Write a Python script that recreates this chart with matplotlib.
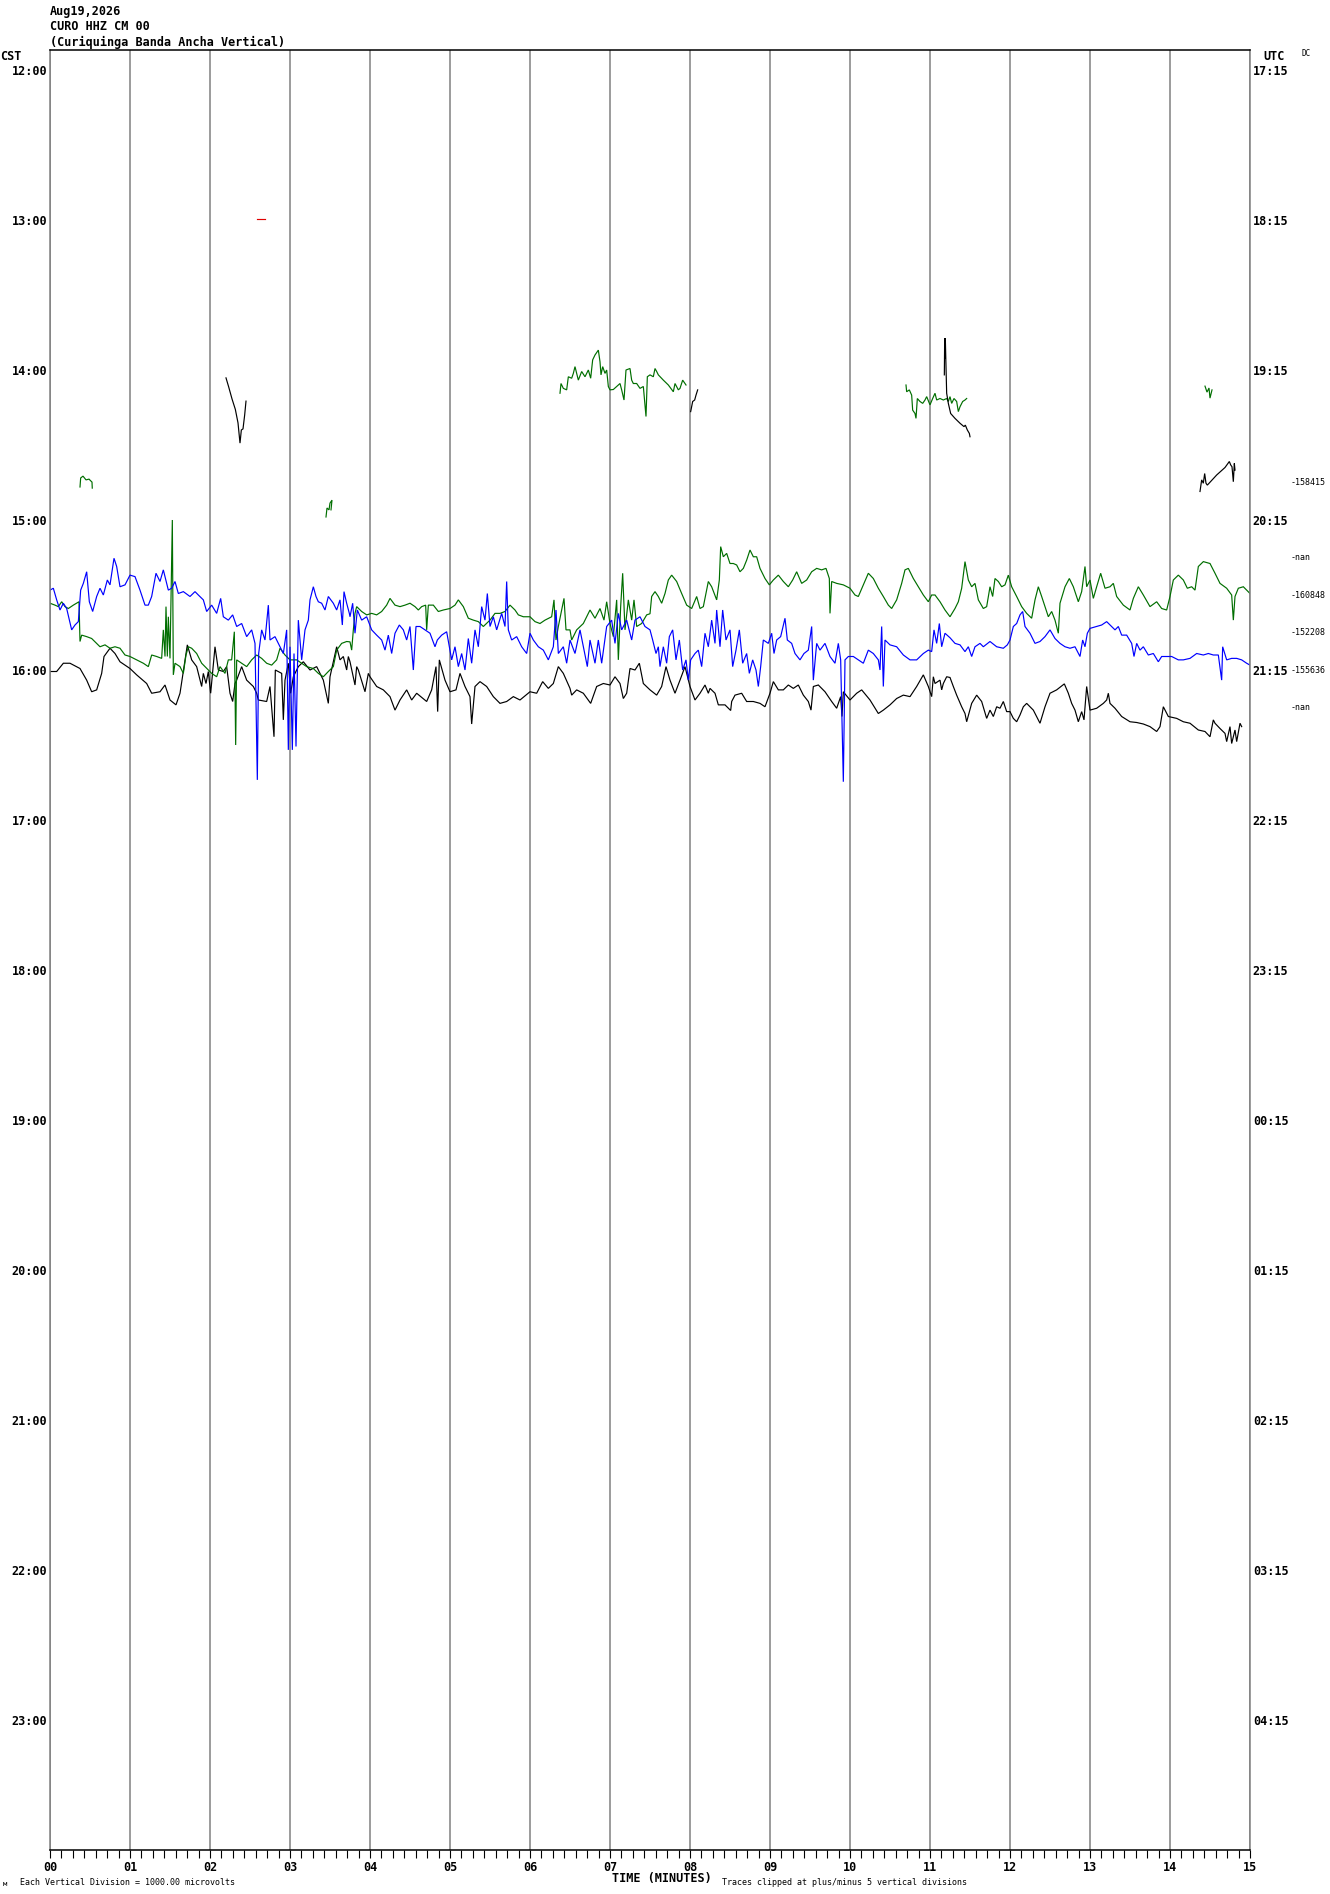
import numpy as np
import matplotlib
matplotlib.use('Agg')
import matplotlib.pyplot as plt
from matplotlib.transforms import blended_transform_factory

# header of the helicorder page
station_date = 'Aug19,2026'
station_code = 'CURO HHZ CM 00'
station_name = '(Curiquinga Banda Ancha Vertical)'

cst_hours = ['12:00', '13:00', '14:00', '15:00', '16:00', '17:00',
             '18:00', '19:00', '20:00', '21:00', '22:00', '23:00']
utc_hours = ['17:15', '18:15', '19:15', '20:15', '21:15', '22:15',
             '23:15', '00:15', '01:15', '02:15', '03:15', '04:15']
minute_labels = ['%02d' % m for m in range(16)]

# mean values printed at the right of some 15 min lines
mean_lines = [11, 13, 14, 15, 16, 17]
mean_labels = ['-158415', '-nan', '-160848', '-152208', '-155636', '-nan']

# traces: (seconds into the line, deflection in vertical divisions, up = +)
black_main = [  # line 16
    (0, -0.04), (5, -0.04), (10, 0.18), (15, 0.18), (22.5, 0.04), (27.5, -0.27), (31.25, -0.58), (35, -0.53),
    (38.75, -0.09), (40.5, 0.36), (45, 0.58), (48.75, 0.44), (52.5, 0.22), (60, 0.04), (65, -0.13), (72.5, -0.36),
    (76.25, -0.62), (82.5, -0.58), (86.25, -0.40), (90, -0.80), (94.5, -0.93), (97.5, -0.62), (100, -0.04),
    (103, 0.67), (106.25, 0.27), (110, 0.09), (113.75, -0.44), (115, -0.09), (117, -0.36), (118.75, -0.04),
    (120.5, -0.62), (123.75, 0.62), (126.25, 0.0), (130, -0.04), (132.5, 0.09), (135, -0.62), (137, -0.84),
    (138.75, -0.36), (140, -0.27), (143.75, 0.09), (147.5, -0.27), (152.5, -0.44), (155, -0.62), (156.25, -0.80),
    (162.5, -0.84), (165, -0.44), (168, -1.78), (169, 0.0), (173.75, -0.09), (175, -1.33), (176.25, -0.27),
    (178.75, 0.18), (180.5, -0.62), (182.5, -0.18), (186.25, 0.09), (190, 0.22), (195, 0.0), (200, 0.09),
    (205, -0.27), (208.75, -0.89), (210, -0.18), (215, 0.62), (217.5, 0.27), (220, 0.36), (222.5, 0.0),
    (223.75, 0.36), (225, 0.22), (228.75, -0.40), (230, 0.09), (231.25, 0.0), (236.25, -0.58), (238.75, -0.09),
    (240, -0.18), (245, -0.44), (250, -0.53), (255, -0.71), (258.75, -1.07), (262.5, -0.80), (267.5, -0.53),
    (271.25, -0.80), (275, -0.62), (282.5, -0.84), (286.25, -0.53), (289.5, 0.09), (290.75, -1.11), (292, 0.27),
    (296.25, -0.27), (300, -0.58), (304.5, -0.53), (307.5, -0.09), (311.25, -0.44), (315, -0.71), (316.25, -1.44),
    (318.75, -0.44), (322.5, -0.31), (327.5, -0.44), (332.5, -0.71), (337.5, -0.89), (342.5, -0.84),
    (347.5, -0.71), (352.5, -0.80), (360, -0.58), (365, -0.62), (369.5, -0.31), (373.75, -0.49), (377.5, -0.36),
    (381.25, 0.09), (385, -0.09), (390, -0.49), (391.25, -0.67), (395, -0.53), (400, -0.62), (405.5, -0.89),
    (410, -0.44), (415, -0.36), (420, -0.40), (423.75, -0.18), (427.5, -0.36), (430, -0.76), (432.5, -0.62),
    (435, 0.04), (438.75, 0.0), (442, 0.18), (445, -0.36), (450, -0.53), (455, -0.67), (458.75, -0.44),
    (462, 0.09), (465, -0.27), (468.75, -0.62), (472.5, -0.27), (476.25, 0.09), (480, -0.44), (483.75, -0.80),
    (487.5, -0.62), (491.25, -0.40), (493.75, -0.62), (495, -0.49), (498.75, -0.62), (501.25, -0.93),
    (506.25, -0.93), (510.5, -1.08), (511.25, -0.84), (513.75, -0.67), (518.75, -0.62), (522.5, -0.84),
    (527.5, -0.84), (532.5, -0.89), (536.25, -0.98), (540, -0.62), (542.5, -0.31), (546.25, -0.53), (550, -0.53),
    (553.75, -0.40), (557.5, -0.49), (561.25, -0.40), (565, -0.67), (568.75, -0.84), (570.75, -1.07),
    (572.5, -0.44), (576.25, -0.40), (581.25, -0.58), (586.25, -0.84), (590, -1.02), (593, -0.71), (594, -1.24),
    (595, -0.58), (600, -0.80), (605, -0.62), (608.75, -0.53), (615, -0.80), (621.25, -1.16), (625, -1.07),
    (630, -0.93), (635, -0.76), (640, -0.67), (645, -0.71), (650, -0.44), (655, -0.13), (658.75, -0.44),
    (661.25, -0.71), (662.5, -0.18), (663.75, -0.36), (667.5, -0.27), (668.75, -0.53), (670, -0.36),
    (672.5, -0.18), (675, -0.2), (677.5, -0.44), (680, -0.67), (683.75, -0.98), (686.25, -1.16), (687.5, -1.38),
    (691.25, -0.89), (695, -0.67), (698.75, -0.84), (702.5, -1.29), (705, -1.07), (707.5, -1.24), (710, -0.98),
    (712.5, -1.02), (715, -0.84), (717.5, -1.11), (720, -1.11), (722.5, -1.29), (725, -1.38), (727.5, -1.20),
    (730, -0.98), (732.5, -0.89), (737.5, -1.07), (742.5, -1.42), (746.25, -0.98), (750, -0.62), (755, -0.53),
    (760.75, -0.37), (763.75, -0.62), (766.25, -0.89), (768.75, -1.07), (771.25, -1.38), (773.75, -1.11),
    (775.5, -1.33), (777.5, -0.44), (780, -1.07), (785, -1.02), (790, -0.89), (792.5, -0.80), (793.75, -0.62),
    (795, -0.89), (798.75, -1.02), (803.75, -1.24), (810, -1.38), (815, -1.40), (820, -1.44), (825, -1.51),
    (830, -1.64), (832.5, -1.51), (835, -0.98), (838.75, -1.24), (845, -1.29), (850, -1.38), (855, -1.42),
    (861.25, -1.60), (866.25, -1.64), (870, -1.78), (872.5, -1.33), (873.75, -1.42), (877.5, -1.56),
    (881.25, -1.69), (882.5, -1.91), (885, -1.51), (886.25, -1.96), (888.75, -1.60), (890, -1.91),
    (892.5, -1.42), (893.75, -1.51),
]

blue_main = [  # line 15
    (0, 1.13), (2.5, 1.18), (5, 0.87), (7.5, 0.60), (10, 0.78), (12.5, 0.64), (14.5, 0.33), (16.25, 0.07),
    (18.75, 0.20), (21.25, 0.29), (23, 1.13), (25, 1.31), (27.5, 1.62), (29.5, 0.82), (32, 0.56), (35, 0.96),
    (37.5, 1.18), (40, 1.0), (43, 1.40), (45, 1.27), (48, 1.98), (50, 1.76), (52.5, 1.22), (56.25, 1.27),
    (60, 1.53), (63.75, 1.49), (67.5, 1.13), (71.25, 0.73), (73.75, 0.73), (76.25, 0.96), (79.5, 1.58),
    (82.5, 1.36), (85, 1.67), (88.75, 1.13), (91.25, 1.18), (93.75, 1.36), (96.25, 1.04), (100, 1.09),
    (105, 0.96), (108.75, 1.09), (111.25, 1.0), (115, 0.87), (117.5, 0.56), (121.25, 0.73), (125, 0.51),
    (128, 0.91), (130, 0.42), (133.75, 0.33), (137, 0.47), (140, 0.16), (143.75, 0.24), (147.5, -0.11),
    (151.25, 0.07), (153.75, -0.29), (155.5, -3.93), (156.5, -0.56), (158.75, 0.07), (161.25, -0.20),
    (163.75, 0.73), (165, -0.20), (168.75, -0.11), (172.5, -0.38), (175, -0.56), (177.5, 0.07), (178.75, -3.13),
    (180, -0.38), (181.75, -3.13), (183, -0.56), (184.5, -3.04), (186.25, 0.33), (188.75, -0.73), (191.25, 0.07),
    (193.75, 0.33), (195, 0.87), (197.5, 1.22), (199.5, 0.96), (201.25, 0.82), (203.75, 0.78), (206.25, 0.60),
    (208.75, 0.96), (212.5, 0.78), (215, 0.60), (217.5, 0.87), (219.25, 0.20), (220.5, 1.09), (222.5, 0.78),
    (224.5, 0.51), (225, 0.42), (227, 0.78), (228.75, -0.02), (230.5, 0.60), (233.75, 0.33), (237.5, 0.42),
    (241.25, 0.07), (245, -0.07), (248.75, -0.20), (251.25, -0.47), (253.75, -0.07), (256.25, -0.56),
    (258.75, -0.02), (262, 0.20), (265, 0.07), (267.5, -0.20), (270, 0.16), (272.5, -1.0), (274.5, 0.16),
    (277.5, 0.16), (281.25, 0.07), (285, -0.02), (288.75, -0.38), (290.5, -0.20), (293.75, -0.07), (297.5, 0.02),
    (301.25, -0.73), (303.75, -0.38), (306.25, -0.91), (308.75, -0.56), (311.25, -1.0), (313.75, -0.16),
    (316.25, -0.82), (318.75, 0.07), (321.25, -0.38), (323.75, 0.69), (326.25, 0.33), (328, 1.04), (330, 0.16),
    (332.5, 0.42), (335, 0.07), (338.75, 0.51), (341.25, 0.16), (342.5, 1.36), (343.75, 0.07), (346.25, -0.20),
    (350, -0.11), (353.75, -0.38), (357.5, -0.56), (360, -0.02), (362.5, -0.20), (366.25, -0.38), (370, -0.47),
    (373.75, -0.73), (377.5, -0.38), (379.5, 0.60), (381.25, -0.56), (385, -0.38), (387.5, -0.82), (390, -0.20),
    (393.75, -0.56), (397.5, 0.07), (400, -0.38), (403, -0.91), (405, -0.20), (408.75, -0.82), (411.25, -0.20),
    (413.75, -0.82), (417.5, 0.16), (421.25, 0.33), (423.75, -0.29), (426.25, 0.51), (428.75, 0.07),
    (432.5, 0.33), (436.25, -0.20), (438.75, 0.33), (442.5, 0.42), (446.25, 0.16), (450, 0.07), (452, -0.20),
    (454.5, -0.56), (456.25, -0.38), (457.5, -0.91), (460, -0.38), (462.5, -0.82), (464.5, -0.11), (467, 0.07),
    (469.5, -0.73), (472, -0.20), (474.5, -1.0), (477, -0.73), (478.75, -1.27), (480.5, -0.73), (483.75, -0.56),
    (486.25, -0.47), (488.75, -0.91), (491.25, -0.02), (493.75, -0.38), (496.25, 0.33), (498.75, -0.29),
    (500, 0.60), (502.5, -0.38), (504.5, 0.60), (507, -0.20), (510, 0.07), (512, -0.91), (514.5, -0.47),
    (517, 0.07), (519.5, -0.82), (522.5, -0.56), (524.5, -1.09), (527, -0.73), (529.5, -1.0), (531.25, -1.44),
    (533, -0.91), (535, -0.20), (538.75, -0.29), (541.25, -0.02), (543, -0.56), (545, -0.20), (548, -0.11),
    (551.25, 0.38), (553, -0.20), (556.25, -0.29), (558.75, -0.56), (562.5, -0.73), (565.5, -0.56),
    (568.75, -0.47), (571.25, 0.16), (572.5, -1.27), (575, -0.29), (577.5, -0.47), (581.25, -0.29),
    (585, -0.64), (588.75, -0.82), (591.25, -0.29), (593, -0.73), (595, -3.98), (596.25, -0.73),
    (598.75, -0.64), (602.5, -0.64), (606.25, -0.73), (610, -0.82), (613.75, -0.47), (617.5, -0.56),
    (621.25, -0.73), (622.5, -1.0), (623.75, 0.16), (625, -1.44), (626.25, -0.20), (630, -0.33), (635, -0.38),
    (640, -0.60), (645, -0.73), (650, -0.73), (655, -0.56), (658.75, -0.47), (661.25, -0.51), (663, 0.07),
    (665, -0.29), (667, 0.24), (668.75, -0.38), (671.25, -0.02), (675, -0.14), (678.75, -0.29), (682.5, -0.33),
    (686.25, -0.51), (688.75, -0.38), (691.25, -0.64), (693.75, -0.38), (697.5, -0.29), (700, -0.38),
    (705, -0.24), (710, -0.38), (715, -0.42), (718, -0.33), (720, -0.20), (722.5, 0.16), (725, 0.24),
    (727.5, 0.47), (729.5, 0.56), (731.25, 0.16), (735, -0.02), (738.75, -0.29), (742.5, -0.24),
    (746.25, -0.11), (750, 0.07), (753.75, -0.16), (757.5, -0.29), (761.25, -0.38), (765, -0.42),
    (768.75, -0.38), (772.5, -0.64), (774.5, -0.20), (776.25, -0.38), (778, -0.02), (780, 0.11), (785, 0.16),
    (788.75, 0.20), (792.5, 0.29), (796.25, 0.16), (798.75, 0.07), (801.25, 0.16), (803.75, -0.07),
    (807.5, -0.07), (811.25, -0.29), (813, -0.64), (815, -0.29), (817.5, -0.47), (820, -0.38), (823.75, -0.60),
    (827.5, -0.56), (831.25, -0.78), (833.75, -0.64), (837.5, -0.64), (841.25, -0.64), (846.25, -0.73),
    (850, -0.73), (855, -0.69), (860, -0.56), (865, -0.60), (868.75, -0.56), (872.5, -0.60), (876.25, -0.60),
    (878.75, -1.27), (879.5, -0.38), (882.5, -0.73), (886.25, -0.69), (890, -0.69), (893.75, -0.73),
    (897.5, -0.82), (900, -0.87),
]

green_main = [  # line 14
    (0, -0.22), (3.75, -0.27), (6.25, -0.31), (8.75, -0.18), (11.25, -0.31), (13.75, -0.36), (17.5, -0.27),
    (21.75, -0.18), (22.5, -1.24), (23.75, -1.07), (27.5, -1.11), (31.25, -1.16), (35, -1.29), (37.5, -1.38),
    (41.25, -1.33), (45, -1.42), (48.75, -1.38), (52.5, -1.42), (56.25, -1.60), (60, -1.64), (65, -1.73),
    (70, -1.82), (73.75, -1.91), (76.25, -1.60), (80, -1.64), (83.75, -1.69), (85, -0.93), (86.25, -1.64),
    (87, -0.31), (88, -1.64), (88.75, -0.58), (90, -1.69), (91.75, 2.0), (92.5, -2.13), (93.75, -1.82),
    (97.5, -1.91), (100, -2.09), (102, -1.60), (103.75, -1.38), (106.25, -1.42), (110, -1.56), (113.75, -1.82),
    (116.25, -1.91), (118.75, -2.0), (121.25, -2.09), (125, -2.18), (127.5, -1.91), (131.25, -2.09),
    (133.75, -1.73), (136.25, -1.73), (138.25, -0.98), (139.25, -4.0), (140, -1.73), (143.75, -1.82),
    (147.5, -1.91), (151.25, -1.73), (155, -1.60), (158.75, -1.69), (162.5, -1.82), (166.25, -1.87),
    (170, -1.73), (172.5, -1.42), (176.25, -1.60), (180, -1.73), (185, -1.73), (188.75, -1.82), (192.5, -1.91),
    (197.5, -1.96), (201.25, -2.09), (205, -2.18), (208.75, -2.04), (212.5, -1.91), (215, -1.47),
    (218.75, -1.29), (222.5, -1.24), (225, -1.25), (226.25, -1.47), (227.5, -0.93), (228.75, -0.49),
    (230, -0.31), (233.75, -0.44), (237.5, -0.53), (241.25, -0.49), (245, -0.53), (248.75, -0.44),
    (252.5, -0.27), (255, -0.09), (258.75, -0.27), (262.5, -0.31), (266.25, -0.27), (270, -0.22),
    (273.75, -0.31), (276.25, -0.40), (278.75, -0.31), (281.75, -0.27), (282.5, -0.93), (283.75, -0.27),
    (287.5, -0.27), (291.25, -0.44), (295, -0.40), (300, -0.36), (303.75, -0.27), (306.25, -0.13),
    (310, -0.31), (313.75, -0.62), (317.5, -0.67), (321.25, -0.71), (325, -0.84), (330, -0.67),
    (333.75, -0.49), (337.5, -0.49), (341.25, -0.44), (345, -0.27), (348.75, -0.40), (351.25, -0.53),
    (355, -0.58), (360, -0.58), (363.75, -0.71), (367.5, -0.76), (371.25, -0.67), (376.25, -0.58),
    (378, -0.13), (379.5, -1.20), (381.25, -0.84), (385.5, -0.09), (387, -0.93), (390, -0.93), (391.25, -1.20),
    (395, -0.93), (400, -0.76), (405, -0.40), (408.75, -0.62), (412.5, -0.36), (415.5, -0.67), (417.5, -0.18),
    (420, -0.76), (422.5, -1.11), (425, -0.13), (426.25, -1.73), (428, -0.31), (429.5, 0.58), (431.25, -0.93),
    (433.75, -0.13), (436.25, -0.67), (438, -0.13), (440, -0.84), (443.75, -0.76), (447.5, -0.53),
    (450, -0.50), (451.25, -0.04), (453.75, 0.09), (456.25, -0.04), (458.75, -0.22), (461.25, 0.04),
    (463.75, 0.40), (466.25, 0.53), (470, 0.36), (473.75, 0.04), (477.5, -0.27), (481.25, -0.36),
    (485, -0.04), (487.5, -0.36), (490, -0.31), (493.75, 0.36), (496.25, 0.22), (500, -0.13), (502, 0.40),
    (503, 1.29), (505, 1.02), (507.5, 1.11), (510, 0.84), (512.5, 0.84), (515, 0.80), (517.5, 0.62),
    (520, 0.71), (522.5, 0.93), (525, 1.20), (527.5, 1.02), (530, 1.02), (532.5, 0.71), (536.25, 0.44),
    (539.5, 0.27), (542.5, 0.40), (546.25, 0.53), (550, 0.36), (553.75, 0.22), (557, 0.40), (560, 0.62),
    (563.75, 0.31), (567.5, 0.40), (571.25, 0.62), (575, 0.71), (578.75, 0.67), (582, 0.71), (584.5, 0.44),
    (585, -0.49), (586.25, 0.36), (590, 0.31), (595, 0.27), (600, 0.18), (603.75, 0.0), (606.25, -0.04),
    (610, 0.27), (613.75, 0.58), (617.5, 0.44), (621.25, 0.18), (625, -0.04), (628.75, -0.27),
    (631.25, -0.36), (635, -0.13), (638.75, 0.31), (641.25, 0.67), (643.75, 0.71), (647.5, 0.44),
    (651.25, 0.22), (655, 0.0), (658.75, -0.18), (661.25, 0.0), (663.75, 0.0), (667.5, -0.18), (671.25, -0.40),
    (675, -0.58), (678.75, -0.36), (681.25, -0.18), (683.75, 0.18), (686.25, 0.89), (688.75, 0.40),
    (691.25, 0.22), (693.75, 0.31), (696.25, -0.13), (700, -0.36), (702.5, -0.31), (705, 0.22), (707, -0.04),
    (708.75, 0.44), (711.25, 0.36), (713.75, 0.22), (716.25, 0.27), (718.75, 0.53), (721.25, 0.22),
    (725, -0.04), (728.75, -0.31), (732.5, -0.49), (736.25, -0.62), (738.75, -0.13), (741.25, 0.22),
    (743.75, -0.04), (746.25, -0.31), (748.75, -0.58), (751.25, -0.44), (753.75, -0.67), (756.25, -1.02),
    (757.5, -0.22), (761.25, 0.22), (764.5, 0.44), (767.5, 0.22), (771.25, -0.18), (773.75, 0.09),
    (776.25, 0.76), (777.5, 0.22), (780, 0.40), (782.5, -0.09), (785, 0.22), (788, 0.58), (791.25, 0.18),
    (795, 0.22), (797.5, 0.31), (800, -0.04), (805, -0.27), (810, -0.40), (812.5, -0.09), (816.25, 0.22),
    (820, 0.0), (825, -0.31), (830, -0.18), (833.75, -0.36), (837.5, -0.40), (840, -0.04), (842.5, 0.40),
    (846.25, 0.53), (850, 0.40), (853, 0.18), (856.25, 0.22), (858.75, 0.13), (861.25, 0.76), (865, 0.89),
    (870, 0.84), (873.75, 0.58), (877.5, 0.31), (882.5, 0.18), (886.25, 0.0), (887.5, -0.67), (888.75, -0.04),
    (891.25, 0.18), (895, 0.22), (900, 0.04),
]

# short pieces of trace higher up the page
red_13 = [(155.25, 0.02), (161.25, 0.02)]  # line 4
black_1415 = [(132, 0.79), (134, 0.55), (136.5, 0.23), (139, -0.05), (141, -0.41), (142.5, -0.95),
              (143.5, -0.6), (144.75, -0.57), (146, -0.2), (147, 0.17)]  # line 9
green_1400 = [(382.5, -0.62), (383.25, -0.36), (385, -0.49), (387.5, -0.53), (388.75, -0.18), (391.25, -0.22),
              (392.5, -0.09), (393.75, 0.09), (396.25, -0.27), (398.75, -0.04), (401.25, -0.18), (403.75, 0.0),
              (405.5, -0.22), (407, 0.27), (408.75, 0.40), (411.25, 0.53), (412.5, 0.22), (413.25, -0.13),
              (414.5, 0.09), (416.25, -0.09), (417.5, 0.0), (418.75, -0.44), (420, -0.53), (422.5, -0.52),
              (425, -0.44), (427.5, -0.36), (428.75, -0.53), (430.5, -0.80), (432, 0.0), (435, 0.04),
              (436.25, -0.27), (437.5, -0.36), (440, -0.36), (442.5, -0.49), (445, -0.44), (447, -1.24),
              (448, -0.18), (450, -0.13), (452.5, -0.18), (453.75, 0.04), (455, -0.04), (456.25, -0.13),
              (460, -0.27), (463.75, -0.40), (467.5, -0.58), (468.75, -0.36), (471.25, -0.53), (472.5, -0.49),
              (474.5, -0.27), (477, -0.40)]  # line 8
black_1400 = [(480.5, -1.11), (482, -0.84), (483.5, -0.80), (484.5, -0.67), (485.75, -0.53)]  # line 8
green_1411 = [(642, -0.40), (642.5, -0.58), (644.5, -0.53), (646.25, -0.67), (647, -1.07), (648.75, -1.16),
              (649.5, -1.29), (650.5, -0.76), (652.5, -0.84), (654.5, -0.89), (656.25, -0.80), (657.5, -0.71),
              (660, -0.93), (662, -0.76), (663.75, -0.62), (665, -0.80), (667.5, -0.76), (670, -0.80),
              (672.5, -0.76), (673.75, -0.84), (675, -0.71), (676.25, -0.89), (678, -0.76), (680, -0.84),
              (681.25, -1.11), (682.5, -0.98), (684.5, -0.84), (686.25, -0.80), (687.5, -0.76)]  # line 8
black_1411 = [(670.75, -0.13), (671.0, 0.84), (671.25, 0.3), (671.5, 0.84), (672, 0.09), (672.5, -0.62),
              (673.75, -0.89), (675.5, -1.16), (678.75, -1.29), (682.5, -1.42), (685.5, -1.51), (686.5, -1.47),
              (688, -1.60), (689.5, -1.69), (690, -1.78)]  # line 8
green_1414 = [(866.25, -0.43), (867.75, -0.59), (869.25, -0.48), (870, -0.75), (871.5, -0.53)]  # line 8
green_1445 = [(22.5, -0.12), (23, 0.12), (24.75, 0.17), (27, 0.07), (29.25, 0.09), (31.5, 0.01),
              (31.7, -0.15)]  # line 11
black_1445 = [(862.5, -0.24), (863.75, 0.07), (865, -0.02), (866, 0.24), (867, -0.02), (868, -0.07),
              (875, 0.2), (881.25, 0.4), (884.5, 0.56), (885.5, 0.47), (886.5, 0.42), (887.5, 0.02),
              (888.25, 0.51), (888.75, 0.33)]  # line 11
green_1503 = [(207, 0.08), (207.75, 0.32), (209.25, 0.27), (210, 0.45), (211.5, 0.53), (210.75, 0.27)]  # line 12

W, H = 1330, 1894
fig = plt.figure(figsize=(W / 100, H / 100), dpi=100)
fig.patch.set_facecolor('white')

# plot box 50..1250 x 50..1850 px, first baseline 20 px below the top, 37.5 px per line
ax = fig.add_axes([50 / W, 44 / H, 1200 / W, 1800 / H])
ax.set_xlim(0, 15)
ax.set_ylim(1780 / 37.5, -20 / 37.5)

mono = 'DejaVu Sans Mono'
GRID = '#808080'
GREEN = '#006e00'


def draw(pairs, line, color):
    t, a = np.array(pairs, dtype=float).T
    ax.plot(t / 60.0, line - a, color=color, lw=0.85, solid_joinstyle='miter')


draw(black_main, 16, 'black')
draw(green_main, 14, GREEN)
draw(blue_main, 15, '#0000ff')
draw(red_13, 4, '#e00000')
draw(black_1415, 9, 'black')
draw(green_1400, 8, GREEN)
draw(black_1400, 8, 'black')
draw(green_1411, 8, GREEN)
draw(black_1411, 8, 'black')
draw(green_1414, 8, GREEN)
draw(green_1445, 11, GREEN)
draw(black_1445, 11, 'black')
draw(green_1503, 12, GREEN)

# minute grid and bottom scale
ax.set_xticks(range(16))
ax.set_xticklabels(minute_labels, fontfamily=mono, fontweight='bold', fontsize=8.5)
ax.set_xticks(np.arange(0, 15, 1 / 7.0), minor=True)
ax.tick_params(axis='x', which='both', direction='out', length=6, width=0.8, color='black', pad=2)
ax.grid(axis='x', which='major', color=GRID, lw=1.1)
ax.set_axisbelow(True)

hour_ticks = np.arange(0, 48, 4)
ax.set_yticks(hour_ticks)
ax.set_yticklabels(cst_hours, fontfamily=mono, fontweight='bold', fontsize=8.5)
ax.tick_params(axis='y', length=0, pad=2)

sec = ax.secondary_yaxis('right')
sec.set_yticks(hour_ticks)
sec.set_yticklabels(utc_hours, fontfamily=mono, fontweight='bold', fontsize=8.5)
sec.tick_params(axis='y', length=0, pad=2)
sec.spines['right'].set_visible(False)

ax.spines['top'].set_color('black')
ax.spines['bottom'].set_color('black')
ax.spines['left'].set_color(GRID)
ax.spines['right'].set_color(GRID)
for s in ax.spines.values():
    s.set_linewidth(1.1)

trans = blended_transform_factory(ax.transAxes, ax.transData)
for line, lab in zip(mean_lines, mean_labels):
    ax.text(1.0337, line, lab, transform=trans, fontfamily=mono, fontsize=6,
            ha='left', va='center', clip_on=False)


def ftext(x, y, s, **kw):
    fig.text(x / W, 1 - y / H, s, fontfamily=mono, **kw)


ftext(50, 12, station_date, fontsize=8.5, fontweight='bold', va='center')
ftext(50, 27, station_code, fontsize=8.5, fontweight='bold', va='center')
ftext(50, 42, station_name, fontsize=8.5, fontweight='bold', va='center')
ftext(0, 57, 'CST', fontsize=8.5, fontweight='bold', va='center')
ftext(1263, 57, 'UTC', fontsize=8.5, fontweight='bold', va='center')
ftext(1302, 53, 'DC', fontsize=5.5, va='center')
ftext(662, 1878, 'TIME (MINUTES)', fontsize=8.5, fontweight='bold', ha='center', va='center')
ftext(20, 1882, 'Each Vertical Division = 1000.00 microvolts', fontsize=6, va='center')
ftext(722, 1882, 'Traces clipped at plus/minus 5 vertical divisions', fontsize=6, va='center')
ftext(3, 1884, '\u043c', fontsize=5, va='center')

fig.savefig('out.png', dpi=100, facecolor='white')
